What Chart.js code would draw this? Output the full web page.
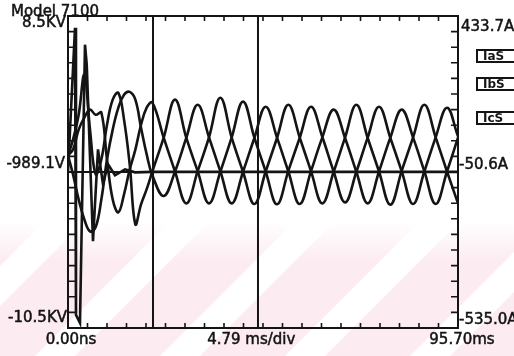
<!DOCTYPE html>
<html>
<head>
<meta charset="utf-8">
<title>Model 7100</title>
<script src="https://cdn.jsdelivr.net/npm/chart.js@4.4.1/dist/chart.umd.min.js"></script>
<style>
  html, body { margin: 0; padding: 0; background: #fff; }
  canvas { display: block; }
</style>
</head>
<body>
<canvas id="scope" width="514" height="356"></canvas>
<script>
// Capture record: three phase currents (A) plus the line voltage (kV)

const sampleTimes = [
  0, 1.23, 2.62, 4.01, 5.40, 6.79, 8.18, 9.57, 10.97, 12.36, 13.75, 15.14, 16.53, 17.92, 19.31, 20.70,
  23.48, 26.26, 29.04, 31.82, 34.60, 37.38, 40.17, 42.95, 45.73, 48.51, 51.29, 54.07, 56.85, 59.63,
  62.41, 65.19, 67.98, 70.76, 73.54, 76.32, 79.10, 81.88, 84.66, 87.44, 90.22, 93.00, 95.70
];

const currentA = [
  1, 50, 127, 251, 81, -58, -12, 96, 174, 195, 112, -27, -213, -151, -104, -49,
  56, 174, 55, -48, -148, -50, 57, 168, 56, -49, -151, -47, 55, 152, 58, -49, -145, -50, 56,
  152, 55, -48, -150, -49, 57, 149, 60
];

const currentB = [
  1, -58, -136, -198, -235, -222, -136, -12, 81, 149, 189, 198, 174, 87, 4, -61,
  -125, -49, 56, 158, 57, -48, -148, -50, 55, 152, 56, -49, -150, -48, 57, 143, 55, -50, -148,
  -49, 56, 143, 57, -48, -150, -49, 56
];

const currentC = [
  1, 19, 81, 118, 143, 127, 134, -12, -136, -176, -120, -43, 19, 96, 149, 165,
  56, -49, -148, -48, 57, 180, 56, -50, -150, -49, 55, 158, 57, -48, -148, -50, 56, 158, 55,
  -49, -152, -47, 56, 158, 57, -49, -148
];

const voltageTimes = [0, 1.72, 1.96, 2.94, 4.17, 4.60, 6.13, 7.36, 8.59, 9.82, 11.53, 13.99, 16.44, 20.61, 95.70];
const voltageKV = [-0.96, 7.78, -9.70, -10.19, 6.75, 5.54, -5.21, 0.38, -1.75, -0.53, -1.20, -0.84, -1.02, -0.99, -0.99];

const cursorTimes = [20.86, 46.62];

const channelNames = ['IaS', 'IbS', 'IcS'];
const timeRange = [0, 95.70];
const voltRange = [-10.5, 8.5];
const ampRange = [-535.0, 433.7];
const divisions = 20;

const modelName = 'Model 7100';
const leftLabels = ['8.5KV', '-989.1V', '-10.5KV'];
const rightLabels = ['433.7A', '-50.6A', '-535.0A'];
const bottomLabels = ['0.00ns', '4.79 ms/div', '95.70ms'];

const INK = '#141414';
const LABEL_FONT = '15px "DejaVu Sans", sans-serif';

function pairs(xs, ys) {
  return xs.map((x, i) => ({ x: x, y: ys[i] }));
}

function trace(label, data, axis, tension) {
  return {
    label: label,
    data: data,
    yAxisID: axis,
    borderColor: INK,
    borderWidth: 2.6,
    pointRadius: 0,
    tension: tension,
    fill: false
  };
}

// printed text is slightly heavy, so fill and lightly stroke it
function inkText(ctx, text, x, y) {
  ctx.fillText(text, x, y);
  ctx.strokeText(text, x, y);
}

// paper, faint stamp stripes, frame, ticks and captions
const scopeFrame = {
  id: 'scopeFrame',
  beforeDraw(chart) {
    const { ctx, width, height } = chart;
    ctx.save();
    ctx.fillStyle = '#ffffff';
    ctx.fillRect(0, 0, width, height);
    const fade = ctx.createLinearGradient(0, 222, 0, 262);
    fade.addColorStop(0, 'rgba(250, 222, 230, 0)');
    fade.addColorStop(1, 'rgba(250, 222, 230, 0.6)');
    ctx.fillStyle = fade;
    for (let s = -300; s < width + 200; s += 125) {
      ctx.beginPath();
      ctx.moveTo(s, height);
      ctx.lineTo(s + 85, height);
      ctx.lineTo(s + 85 + 140, height - 140);
      ctx.lineTo(s + 140, height - 140);
      ctx.closePath();
      ctx.fill();
    }
    ctx.restore();
  },
  afterDatasetsDraw(chart) {
    const { ctx, chartArea: a, scales } = chart;
    const x = scales.x, yV = scales.yV, yA = scales.yA;
    ctx.save();
    ctx.strokeStyle = INK;
    ctx.lineWidth = 2;
    ctx.strokeRect(a.left, a.top, a.right - a.left, a.bottom - a.top);

    // centre reference line
    const midY = yV.getPixelForValue((voltRange[0] + voltRange[1]) / 2);
    ctx.beginPath();
    ctx.moveTo(a.left, midY);
    ctx.lineTo(a.right, midY);
    ctx.stroke();

    ctx.lineWidth = 1.6;
    ctx.beginPath();
    const tStep = (timeRange[1] - timeRange[0]) / divisions;
    const vStep = (voltRange[1] - voltRange[0]) / divisions;
    const aStep = (ampRange[1] - ampRange[0]) / divisions;
    for (let i = 1; i < divisions; i++) {
      const px = x.getPixelForValue(timeRange[0] + i * tStep);
      ctx.moveTo(px, a.top);
      ctx.lineTo(px, a.top + 5);
      ctx.moveTo(px, a.bottom);
      ctx.lineTo(px, a.bottom - 5);
      const pv = yV.getPixelForValue(voltRange[0] + i * vStep);
      ctx.moveTo(a.left, pv);
      ctx.lineTo(a.left + 9, pv);
      const pa = yA.getPixelForValue(ampRange[0] + i * aStep);
      ctx.moveTo(a.right, pa);
      ctx.lineTo(a.right - 7, pa);
    }
    ctx.stroke();
    ctx.restore();
  },
  afterDraw(chart) {
    const { ctx, chartArea: a } = chart;
    ctx.save();
    ctx.fillStyle = INK;
    ctx.strokeStyle = INK;
    ctx.lineWidth = 0.5;
    ctx.font = LABEL_FONT;
    ctx.textBaseline = 'middle';

    ctx.textAlign = 'left';
    inkText(ctx, modelName, 11, 12);

    ctx.textAlign = 'right';
    inkText(ctx, leftLabels[0], a.left - 2, 23);
    inkText(ctx, leftLabels[1], a.left - 3, 164);
    inkText(ctx, leftLabels[2], a.left - 1, 318);

    ctx.textAlign = 'left';
    inkText(ctx, rightLabels[0], a.right + 3, 27);
    inkText(ctx, rightLabels[1], a.right + 1, 165);
    inkText(ctx, rightLabels[2], a.right + 1, 320);

    ctx.textAlign = 'center';
    inkText(ctx, bottomLabels[0], a.left + 3, 340);
    inkText(ctx, bottomLabels[1], a.left + (a.right - a.left) * 0.47, 340);
    inkText(ctx, bottomLabels[2], a.right + 4, 340);

    // channel tags on the right margin
    const rows = [56, 84, 118];
    ctx.font = 'bold 12px "DejaVu Sans", sans-serif';
    ctx.textAlign = 'left';
    channelNames.forEach((name, i) => {
      ctx.lineWidth = 2;
      ctx.fillStyle = '#ffffff';
      ctx.fillRect(477, rows[i] - 6, 50, 12);
      ctx.strokeRect(477, rows[i] - 6, 50, 12);
      ctx.fillStyle = INK;
      ctx.fillText(name, 483, rows[i] + 1);
    });
    ctx.restore();
  }
};

const datasets = [
  trace(channelNames[0], pairs(sampleTimes, currentA), 'yA', 0.4),
  trace(channelNames[1], pairs(sampleTimes, currentB), 'yA', 0.4),
  trace(channelNames[2], pairs(sampleTimes, currentC), 'yA', 0.4),
  trace('Voltage', pairs(voltageTimes, voltageKV), 'yV', 0)
];

cursorTimes.forEach((t, i) => {
  const ds = trace('Cursor ' + (i + 1), [{ x: t, y: voltRange[0] }, { x: t, y: voltRange[1] }], 'yV', 0);
  ds.borderWidth = 2;
  datasets.push(ds);
});

new Chart(document.getElementById('scope'), {
  type: 'line',
  data: { datasets: datasets },
  options: {
    responsive: false,
    animation: false,
    devicePixelRatio: 1,
    layout: { padding: { left: 68, right: 56, top: 16, bottom: 28 } },
    plugins: { legend: { display: false }, tooltip: { enabled: false } },
    scales: {
      x: { type: 'linear', min: timeRange[0], max: timeRange[1], display: false },
      yV: { type: 'linear', position: 'left', min: voltRange[0], max: voltRange[1], display: false },
      yA: { type: 'linear', position: 'right', min: ampRange[0], max: ampRange[1], display: false }
    }
  },
  plugins: [scopeFrame]
});
</script>
</body>
</html>
